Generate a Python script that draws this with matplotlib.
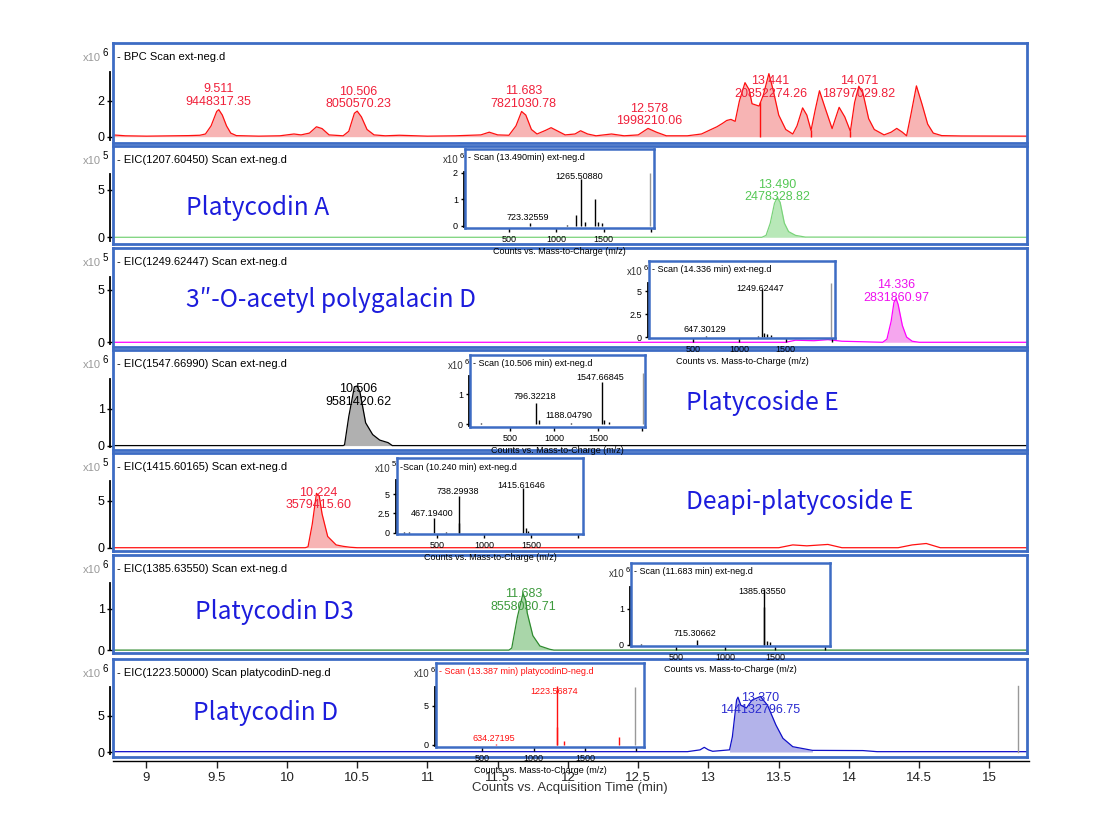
import numpy as np
import matplotlib.pyplot as plt

plt.rcParams["font.family"] = ["Liberation Sans", "DejaVu Sans"]

W, H = 1096, 819
FRAME = "#3d6cc4"
NAME_BLUE = "#1c1cdc"

# ---- chromatogram traces (time in min, intensity in the panel's x10^n unit) ----
bpc_t = [8.76, 8.85, 9.0, 9.2, 9.3, 9.38, 9.42, 9.46, 9.50, 9.515, 9.54, 9.57, 9.60, 9.64, 9.8, 9.95,
         10.05, 10.10, 10.16, 10.21, 10.25, 10.30, 10.40, 10.44, 10.48, 10.50, 10.53, 10.57, 10.62,
         10.70, 10.8, 11.0, 11.2, 11.38, 11.44, 11.50, 11.58, 11.63, 11.67, 11.70, 11.74, 11.78,
         11.84, 11.88, 11.93, 11.98, 12.05, 12.09, 12.14, 12.2, 12.31, 12.40, 12.50, 12.57, 12.63,
         12.70, 12.85, 12.95, 13.01, 13.06, 13.10, 13.13, 13.16, 13.19, 13.22, 13.26, 13.29, 13.31,
         13.36, 13.39, 13.43, 13.46, 13.50, 13.55, 13.60, 13.63, 13.67, 13.70, 13.73, 13.76, 13.79,
         13.83, 13.88, 13.93, 13.97, 14.01, 14.04, 14.07, 14.10, 14.14, 14.18, 14.25, 14.30, 14.34,
         14.38, 14.41, 14.44, 14.48, 14.52, 14.56, 14.60, 14.66, 14.8, 15.27]
bpc_y = [0.10, 0.05, 0.03, 0.05, 0.06, 0.08, 0.15, 0.6, 1.4, 1.5, 1.2, 0.6, 0.2, 0.06, 0.03, 0.05,
         0.15, 0.10, 0.2, 0.55, 0.45, 0.10, 0.05, 0.3, 1.3, 1.42, 1.1, 0.4, 0.10,
         0.05, 0.08, 0.03, 0.05, 0.10, 0.25, 0.10, 0.08, 0.6, 1.4, 1.2, 0.4, 0.15,
         0.35, 0.5, 0.3, 0.10, 0.15, 0.33, 0.15, 0.05, 0.15, 0.05, 0.10, 0.46, 0.25,
         0.05, 0.05, 0.15, 0.37, 0.55, 0.74, 0.9, 0.96, 0.85, 1.98, 3.0, 2.6, 1.83,
         1.7, 2.3, 3.5, 2.6, 1.2, 0.4, 0.15, 0.6, 1.6, 1.2, 0.35, 1.5, 2.55,
         1.6, 0.45, 1.63, 1.1, 0.3, 1.9, 2.8, 2.4, 1.0, 0.4, 0.10, 0.25, 0.46,
         0.25, 0.05, 1.2, 2.82, 1.8, 0.7, 0.2, 0.06, 0.04, 0.03]
bpc_splits = [13.37, 13.73, 14.01]

eic1207_t = [8.76, 13.38, 13.41, 13.44, 13.47, 13.49, 13.51, 13.54, 13.57, 13.62, 13.69, 15.27]
eic1207_y = [0.0, 0.0, 0.2, 1.5, 3.6, 4.2, 3.7, 1.5, 0.6, 0.2, 0.02, 0.0]

eic1249_t = [8.76, 13.55, 13.62, 13.75, 13.85, 13.95, 14.1, 14.24, 14.27, 14.30, 14.32, 14.335,
             14.35, 14.38, 14.41, 14.45, 14.5, 15.27]
eic1249_y = [0.0, 0.0, 0.2, 0.15, 0.25, 0.1, 0.05, 0.0, 0.3, 2.0, 3.8, 4.2,
             3.6, 1.6, 0.5, 0.1, 0.0, 0.0]

eic1547_t = [8.76, 10.40, 10.41, 10.44, 10.48, 10.50, 10.52, 10.56, 10.61, 10.66, 10.72, 10.75, 15.27]
eic1547_y = [0.0, 0.0, 0.02, 0.79, 1.6, 1.62, 1.45, 0.62, 0.3, 0.15, 0.08, 0.0, 0.0]

eic1415_t = [8.76, 10.13, 10.15, 10.18, 10.21, 10.23, 10.25, 10.29, 10.35, 10.40, 10.45, 10.5,
             13.5, 13.6, 13.7, 13.85, 13.95, 14.35, 14.45, 14.55, 14.65, 15.27]
eic1415_y = [0.0, 0.0, 0.1, 2.5, 5.8, 5.5, 3.6, 1.2, 0.3, 0.15, 0.05, 0.0,
             0.0, 0.3, 0.2, 0.35, 0.0, 0.0, 0.3, 0.45, 0.0, 0.0]

eic1385_t = [8.76, 11.58, 11.60, 11.64, 11.68, 11.70, 11.71, 11.75, 11.80, 11.87, 11.9, 15.27]
eic1385_y = [0.0, 0.0, 0.05, 0.8, 1.37, 1.2, 0.9, 0.35, 0.1, 0.02, 0.0, 0.0]

eic1223_t = [8.76, 12.85, 12.94, 12.97, 13.00, 13.03, 13.15, 13.17, 13.20, 13.21, 13.23, 13.27,
             13.31, 13.37, 13.42, 13.48, 13.53, 13.60, 13.74, 14.1, 14.2, 15.27]
eic1223_y = [0.05, 0.05, 0.3, 0.65, 0.3, 0.1, 0.3, 2.1, 7.2, 7.6, 6.5, 6.1,
             7.2, 7.7, 6.5, 3.75, 1.9, 0.74, 0.23, 0.2, 0.05, 0.05]

# peak annotations: retention time, area
bpc_rt = ["9.511", "10.506", "11.683", "12.578", "13.441", "14.071"]
bpc_area = ["9448317.35", "8050570.23", "7821030.78", "1998210.06", "20852274.26", "18797029.82"]

panel_titles = ["- BPC Scan ext-neg.d", "- EIC(1207.60450) Scan ext-neg.d",
                "- EIC(1249.62447) Scan ext-neg.d", "- EIC(1547.66990) Scan ext-neg.d",
                "- EIC(1415.60165) Scan ext-neg.d", "- EIC(1385.63550) Scan ext-neg.d",
                "- EIC(1223.50000) Scan platycodinD-neg.d"]
panel_exp = [6, 5, 5, 6, 5, 6, 6]
panel_yticks = [[0, 2], [0, 5], [0, 5], [0, 1], [0, 5], [0, 1], [0, 5]]
eic_rt = [None, "13.490", "14.336", "10.506", "10.224", "11.683", "13.370"]
eic_area = [None, "2478328.82", "2831860.97", "9581420.62", "3579415.60", "8558030.71", "144132796.75"]
compounds = [None, "Platycodin A", "3\u2033-O-acetyl polygalacin D", "Platycoside E",
             "Deapi-platycoside E", "Platycodin D3", "Platycodin D"]

time_ticks = [9, 9.5, 10, 10.5, 11, 11.5, 12, 12.5, 13, 13.5, 14, 14.5, 15]

# ---- mass spectra (m/z, intensity in x10^n) ----
ms_titles = ["- Scan (13.490min) ext-neg.d", "- Scan (14.336 min) ext-neg.d",
             "- Scan (10.506 min) ext-neg.d", "-Scan (10.240 min) ext-neg.d",
             "- Scan (11.683 min) ext-neg.d", "- Scan (13.387 min) platycodinD-neg.d"]
ms_exp = [6, 6, 6, 5, 6, 6]
ms_mz = [[723.33, 1110, 1210, 1265.51, 1300, 1410, 1440, 1480],
         [150, 260, 400, 647.30, 1150, 1200, 1249.62, 1270, 1300, 1340],
         [170, 796.32, 830, 1188.05, 1547.67, 1570, 1620],
         [150, 200, 467.19, 600, 735, 738.30, 1415.62, 1440, 1470],
         [150, 715.31, 1385.64, 1388, 1420, 1450],
         [634.27, 1223.57, 1226, 1300, 1830]]
ms_int = [[0.1, 0.03, 0.4, 1.75, 0.15, 1.0, 0.15, 0.1],
          [0.05, 0.05, 0.05, 0.1, 0.05, 0.1, 5.3, 0.5, 0.3, 0.2],
          [0.04, 0.7, 0.15, 0.05, 1.4, 0.12, 0.06],
          [0.1, 0.1, 1.9, 0.1, 1.3, 4.8, 5.8, 0.6, 0.2],
          [0.03, 0.14, 1.55, 1.05, 0.1, 0.08],
          [0.1, 7.6, 2.3, 0.5, 1.0]]
ms_lab_mz = [[723.33, 1265.51], [647.30, 1249.62], [796.32, 1188.05, 1547.67],
             [467.19, 738.30, 1415.62], [715.31, 1385.64], [634.27, 1223.57]]
ms_lab = [["723.32559", "1265.50880"], ["647.30129", "1249.62447"],
          ["796.32218", "1188.04790", "1547.66845"], ["467.19400", "738.29938", "1415.61646"],
          ["715.30662", "1385.63550"], ["634.27195", "1223.56874"]]
ms_yticks = [[0, 1, 2], [0, 2.5, 5], [0, 1], [0, 2.5, 5], [0, 1], [0, 5]]
ms_ref_mz = [1990, 1990, 2010, None, None, 1990]
ms_ref_int = [2.0, 5.9, 1.7, None, None, 7.4]

# ---- layout (pixels) ----
panel_box = [(113, 43, 1027, 143), (113, 146, 1027, 244), (113, 248, 1027, 347),
             (113, 350, 1027, 450), (113, 453, 1027, 551), (113, 555, 1027, 653),
             (113, 659, 1027, 757)]
panel_ylim = [(-0.35, 5.2), (-0.71, 9.65), (-0.45, 9.0), (-0.12, 2.6),
              (-0.35, 10.1), (-0.07, 2.3), (-0.69, 12.9)]
panel_lab_y = [None, 3.6, 3.66, 1.03, 3.9, 0.9, 5.0]
bpc_lab_y = [1.6, 1.48, 1.5, 0.53, 2.05, 2.05]
name_pos = [None, (0.080, 0.37), (0.080, 0.475), (0.627, 0.47), (0.627, 0.5),
            (0.090, 0.42), (0.0875, 0.45)]
line_col = ["#ff1010", "#7ad37a", "#ff00ff", "#000000", "#ff1010", "#2e8b2e", "#1010c8"]
fill_col = ["#f7b4b4", "#b8e8b8", "#f5a6ee", "#b0b0b0", "#f7b4b4", "#a9d6a9", "#b3b3ea"]
lab_col = [None, "#55c855", "#ee10ee", "#000000", "#f0203a", "#3c9a3c", "#2a2ad0"]
fill_span = [None, (13.38, 13.7), (14.24, 14.5), (10.40, 10.75), (10.13, 10.5),
             (11.58, 11.9), (13.15, 13.76)]

ms_box = [(465, 149, 654, 228), (649, 261, 835, 338), (470, 355, 645, 427),
          (397, 458, 583, 534), (631, 563, 830, 646), (436, 663, 644, 747)]
ms_ylim = [(-0.08, 2.9), (-0.1, 8.3), (-0.1, 2.3), (-0.17, 9.7), (-0.03, 2.28), (-0.26, 10.5)]
ms_xlim = [(40, 2030), (30, 2030), (45, 2034), (75, 2050), (50, 2053), (53, 2073)]
ms_lab_y = [[0.3, 1.85], [0.87, 5.3], [0.91, 0.3, 1.54], [2.5, 5.4, 6.1], [0.33, 1.48], [0.77, 6.8]]
ms_col = ["k", "k", "k", "k", "k", "#ff1010"]

XLIM = (8.762, 15.267)


def rect(b):
    x0, y0, x1, y1 = b
    return [x0 / W, 1 - y1 / H, (x1 - x0) / W, (y1 - y0) / H]


fig = plt.figure(figsize=(W / 100, H / 100), dpi=100)

traces = [(bpc_t, bpc_y), (eic1207_t, eic1207_y), (eic1249_t, eic1249_y), (eic1547_t, eic1547_y),
          (eic1415_t, eic1415_y), (eic1385_t, eic1385_y), (eic1223_t, eic1223_y)]

for i, (t, y) in enumerate(traces):
    ax = fig.add_axes(rect(panel_box[i]))
    t = np.array(t)
    y = np.array(y)
    if i == 0:
        ax.fill_between(t, 0, y, color=fill_col[i], lw=0)
        ax.vlines(bpc_splits, 0, np.interp(bpc_splits, t, y), color=line_col[i], lw=1)
    else:
        lo, hi = fill_span[i]
        ax.fill_between(t, 0, y, where=(t >= lo) & (t <= hi), color=fill_col[i], lw=0)
    ax.plot(t, y, color=line_col[i], lw=0.9)
    ax.set_xlim(XLIM)
    ax.set_ylim(panel_ylim[i])
    ax.set_xticks([])
    ax.set_yticks(panel_yticks[i])
    ax.set_yticklabels([str(v) for v in panel_yticks[i]])
    ax.tick_params(axis="y", length=4, width=1, pad=2, labelsize=9)
    for s in ax.spines.values():
        s.set_color(FRAME)
        s.set_linewidth(2)
    ax.plot([-0.003, -0.003], [0.03, 0.71], transform=ax.transAxes, color="k", lw=1.3, clip_on=False)
    ax.text(0.004, 0.86, panel_titles[i], transform=ax.transAxes, fontsize=8, va="center")
    ax.text(-0.013, 0.85, "x10", transform=ax.transAxes, fontsize=8, color="#999999",
            ha="right", va="center")
    ax.text(-0.0085, 0.9, str(panel_exp[i]), transform=ax.transAxes, fontsize=7,
            ha="center", va="center")
    if i == 0:
        for rt, area, ly in zip(bpc_rt, bpc_area, bpc_lab_y):
            ax.text(float(rt), ly, rt + "\n" + area, ha="center", va="bottom",
                    fontsize=9, color="#f0203a", linespacing=1.05)
    else:
        if i == 6:
            ax.axvline(15.2, ymin=0.05, ymax=0.72, color="#999999", lw=1)
        ax.text(float(eic_rt[i]), panel_lab_y[i], eic_rt[i] + "\n" + eic_area[i],
                ha="center", va="bottom", fontsize=9, color=lab_col[i], linespacing=1.05)
        nx, ny = name_pos[i]
        ax.text(nx, ny, compounds[i], transform=ax.transAxes, fontsize=17.7, color=NAME_BLUE,
                ha="left", va="center", family=["Noto Sans CJK SC", "DejaVu Sans"])

# shared time axis
axx = fig.add_axes(rect((113, 760, 1029, 761)))
axx.set_xlim(XLIM[0], XLIM[1] + 2 / 140.6)
axx.set_ylim(0, 1)
axx.set_yticks([])
for side in ["left", "right", "top"]:
    axx.spines[side].set_visible(False)
axx.spines["bottom"].set_linewidth(1)
axx.set_xticks(time_ticks)
axx.set_xticklabels(["%g" % v for v in time_ticks])
axx.tick_params(axis="x", length=5, width=1, labelsize=9.5, pad=3, colors="#222222")
axx.patch.set_alpha(0)
fig.text(570 / W, 1 - 788 / H, "Counts vs. Acquisition Time (min)", ha="center", va="center",
         fontsize=9.5, color="#333333")

# mass spectrum insets
for j in range(6):
    b = ms_box[j]
    ax = fig.add_axes(rect(b))
    ax.set_facecolor("white")
    ax.vlines(ms_mz[j], 0, ms_int[j], color=ms_col[j], lw=1)
    if ms_ref_mz[j] is not None:
        ax.vlines([ms_ref_mz[j]], 0, [ms_ref_int[j]], color="#999999", lw=1)
    for mz, lab, ly in zip(ms_lab_mz[j], ms_lab[j], ms_lab_y[j]):
        ax.text(mz - 20, ly, lab, ha="center", va="center", fontsize=6.5, color=ms_col[j])
    ax.set_xlim(ms_xlim[j])
    ax.set_ylim(ms_ylim[j])
    ax.set_xticks([500, 1000, 1500, 2000])
    ax.set_xticklabels(["500", "1000", "1500", ""])
    ax.set_yticks(ms_yticks[j])
    ax.set_yticklabels(["%g" % v for v in ms_yticks[j]])
    ax.tick_params(axis="both", length=3, width=1, pad=2, labelsize=6.5)
    for s in ax.spines.values():
        s.set_color(FRAME)
        s.set_linewidth(1.8)
    ax.plot([-0.004, -0.004], [0.01, 0.71], transform=ax.transAxes, color="k", lw=1.3, clip_on=False)
    ax.set_xlabel("Counts vs. Mass-to-Charge (m/z)", fontsize=6.5, labelpad=2)
    ax.text(0.015, 1 - 9 / (b[3] - b[1]), ms_titles[j], transform=ax.transAxes, fontsize=6.5,
            va="center", color=ms_col[j])
    hpx = b[3] - b[1]
    wpx = b[2] - b[0]
    ax.text(-6 / wpx, 1 - 11 / hpx, "x10", transform=ax.transAxes, fontsize=7,
            ha="right", va="center", color="#333333")
    ax.text(-3 / wpx, 1 - 7 / hpx, str(ms_exp[j]), transform=ax.transAxes, fontsize=5.5,
            ha="center", va="center")

fig.savefig("out.png", dpi=100)
